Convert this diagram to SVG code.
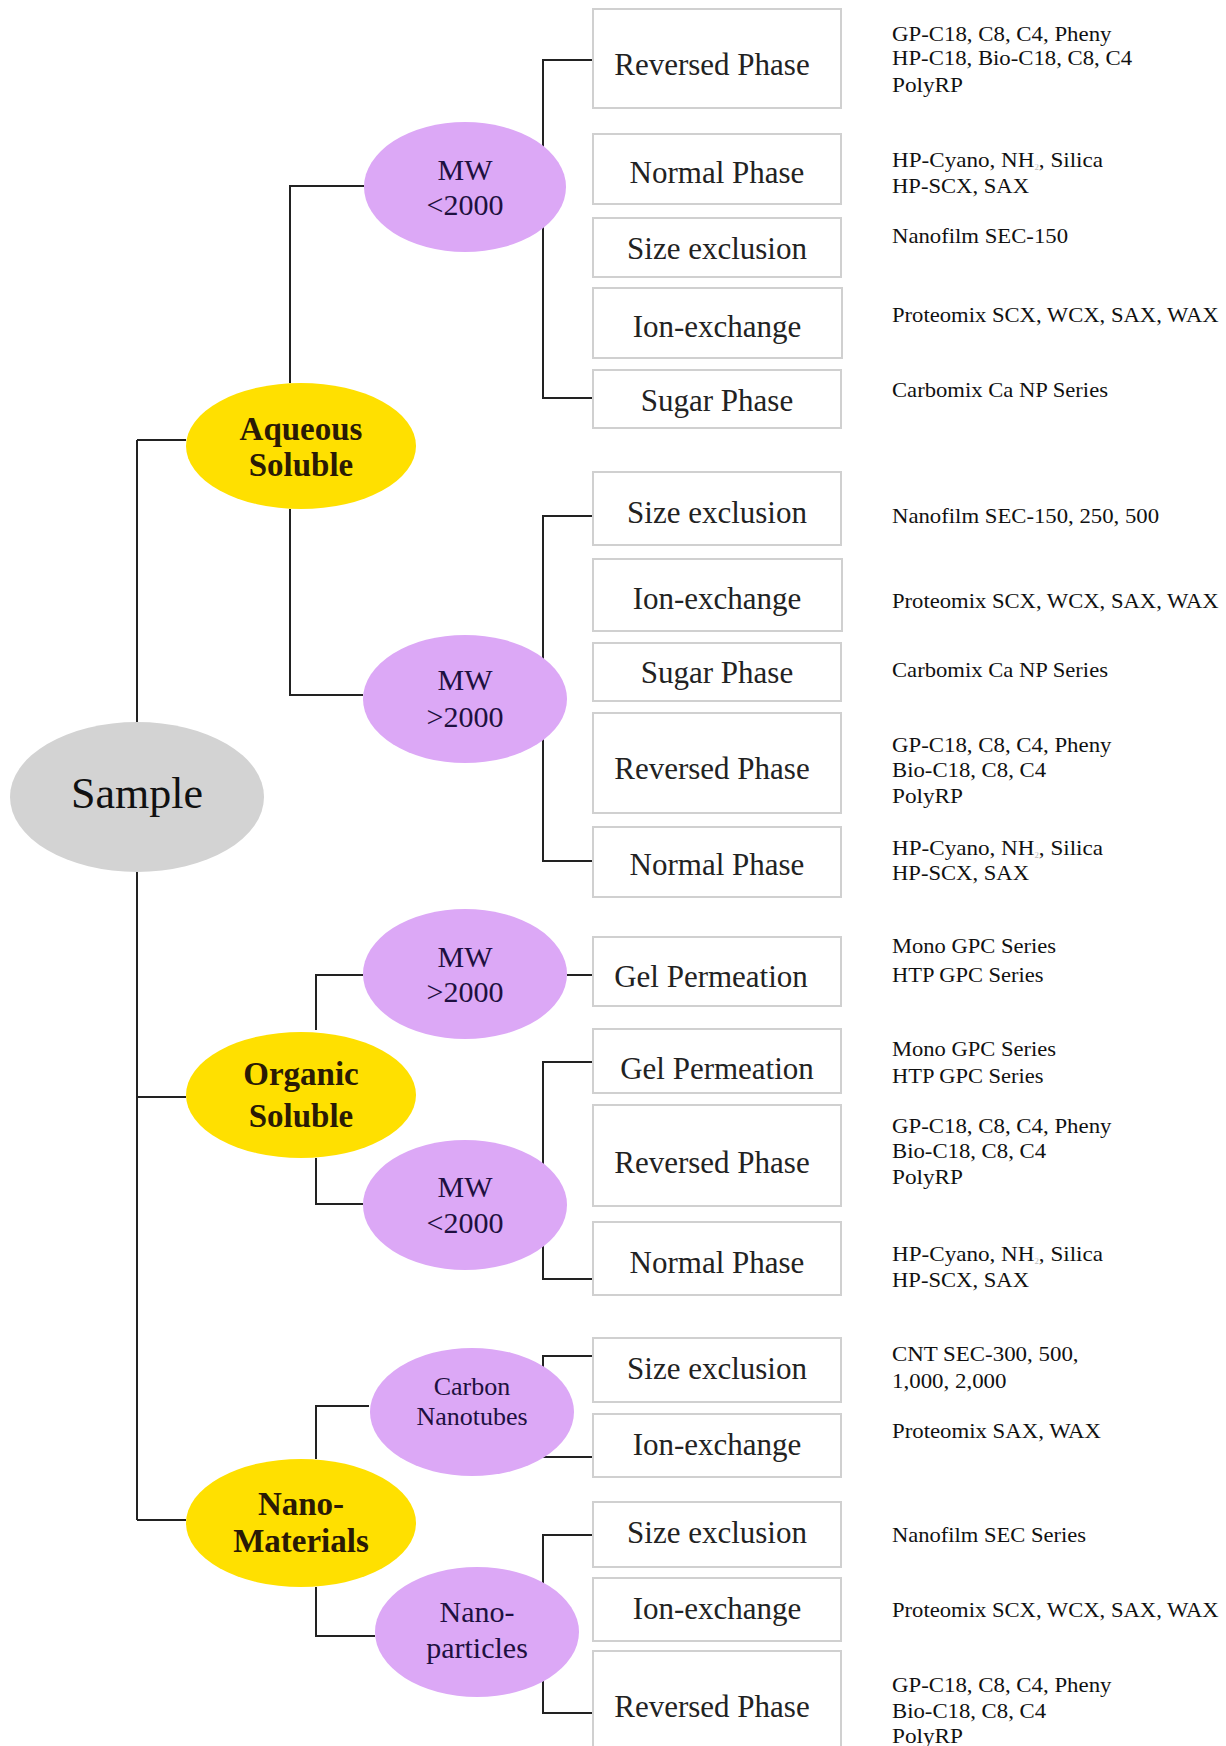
<svg xmlns="http://www.w3.org/2000/svg" width="1226" height="1746" viewBox="0 0 1226 1746">
<style>
.bg{fill:#ffffff}
.ln{fill:none;stroke:#222222;stroke-width:2}
.box{fill:#ffffff;stroke:#d0d0d0;stroke-width:2}
.gray{fill:#d3d3d3}
.yel{fill:#ffe000}
.pur{fill:#dca8f6}
.bl{font-family:"Liberation Serif","Times New Roman",serif;font-size:31px;fill:#222222;text-anchor:middle}
.rt{font-family:"Liberation Serif","Times New Roman",serif;font-size:21px;fill:#111111}
.mw{font-family:"Liberation Serif","Times New Roman",serif;font-size:30px;fill:#1e1040;text-anchor:middle}
.cat{font-family:"Liberation Serif","Times New Roman",serif;font-size:33px;font-weight:bold;fill:#2a1a05;text-anchor:middle}
.smp{font-family:"Liberation Serif","Times New Roman",serif;font-size:44px;fill:#111111;text-anchor:middle}
.cnt{font-family:"Liberation Serif","Times New Roman",serif;font-size:26px;fill:#1e1040;text-anchor:middle}
.sub{font-size:8px;fill:#bbbbbb}
</style>
<rect class="bg" x="0" y="0" width="1226" height="1746"/>

<g id="connectors">
<path class="ln" d="M137,440 V1520"/>
<path class="ln" d="M137,440 H186"/>
<path class="ln" d="M137,1097 H186"/>
<path class="ln" d="M137,1520 H186"/>
<path class="ln" d="M290,383 V186 H364"/>
<path class="ln" d="M290,509 V695 H363"/>
<path class="ln" d="M316,1030 V975 H363"/>
<path class="ln" d="M316,1158 V1204 H363"/>
<path class="ln" d="M316,1459 V1406 H369"/>
<path class="ln" d="M316,1587 V1636 H375"/>
<path class="ln" d="M593,60 H543 V398 H593"/>
<path class="ln" d="M593,516 H543 V861 H593"/>
<path class="ln" d="M567,975 H593"/>
<path class="ln" d="M593,1062 H543 V1279 H593"/>
<path class="ln" d="M593,1356 H543 V1457 H593"/>
<path class="ln" d="M593,1535 H543 V1713 H593"/>
</g>

<g id="sample">
<ellipse class="gray" cx="137" cy="797" rx="127" ry="75"/>
<text class="smp" x="137" y="808">Sample</text>
</g>

<g id="aqueous">
<ellipse class="yel" cx="301" cy="446" rx="115" ry="63"/>
<text class="cat" x="301" y="440">Aqueous</text>
<text class="cat" x="301" y="476">Soluble</text>
</g>
<g id="organic">
<ellipse class="yel" cx="301" cy="1095" rx="115" ry="63"/>
<text class="cat" x="301" y="1085">Organic</text>
<text class="cat" x="301" y="1127">Soluble</text>
</g>
<g id="nano">
<ellipse class="yel" cx="301" cy="1523" rx="115" ry="64"/>
<text class="cat" x="301" y="1515">Nano-</text>
<text class="cat" x="301" y="1552">Materials</text>
</g>

<g id="aq-mw-lt">
<ellipse class="pur" cx="465" cy="187" rx="101" ry="65"/>
<text class="mw" x="465" y="180">MW</text>
<text class="mw" x="465" y="215">&lt;2000</text>
</g>
<g id="aq-mw-gt">
<ellipse class="pur" cx="465" cy="699" rx="102" ry="64"/>
<text class="mw" x="465" y="690">MW</text>
<text class="mw" x="465" y="727">&gt;2000</text>
</g>
<g id="org-mw-gt">
<ellipse class="pur" cx="465" cy="974" rx="102" ry="65"/>
<text class="mw" x="465" y="967">MW</text>
<text class="mw" x="465" y="1002">&gt;2000</text>
</g>
<g id="org-mw-lt">
<ellipse class="pur" cx="465" cy="1205" rx="102" ry="65"/>
<text class="mw" x="465" y="1197">MW</text>
<text class="mw" x="465" y="1233">&lt;2000</text>
</g>
<g id="carbon">
<ellipse class="pur" cx="472" cy="1412" rx="102" ry="64"/>
<text class="cnt" x="472" y="1395">Carbon</text>
<text class="cnt" x="472" y="1425">Nanotubes</text>
</g>
<g id="nanoparticles">
<ellipse class="pur" cx="477" cy="1632" rx="102" ry="65"/>
<text class="mw" x="477" y="1622">Nano-</text>
<text class="mw" x="477" y="1658">particles</text>
</g>

<!-- Aqueous MW<2000 -->
<g id="a1-rp">
<rect class="box" x="593" y="9" width="248" height="99"/>
<text class="bl" x="712" y="75">Reversed Phase</text>
<text class="rt" x="892" y="40.7" textLength="219.5" lengthAdjust="spacingAndGlyphs">GP-C18, C8, C4, Pheny</text>
<text class="rt" x="892" y="65" textLength="240" lengthAdjust="spacingAndGlyphs">HP-C18, Bio-C18, C8, C4</text>
<text class="rt" x="892" y="91.7" textLength="71" lengthAdjust="spacingAndGlyphs">PolyRP</text>
</g>
<g id="a1-np">
<rect class="box" x="593" y="134" width="248" height="70"/>
<text class="bl" x="717" y="182.7">Normal Phase</text>
<text class="rt" x="892" y="166.7" textLength="211" lengthAdjust="spacingAndGlyphs">HP-Cyano, NH<tspan class="sub" dy="3">2</tspan><tspan dy="-3">, Silica</tspan></text>
<text class="rt" x="892" y="192.7" textLength="137" lengthAdjust="spacingAndGlyphs">HP-SCX, SAX</text>
</g>
<g id="a1-se">
<rect class="box" x="593" y="218" width="248" height="59"/>
<text class="bl" x="717" y="259">Size exclusion</text>
<text class="rt" x="892" y="242.7" textLength="176" lengthAdjust="spacingAndGlyphs">Nanofilm SEC-150</text>
</g>
<g id="a1-ie">
<rect class="box" x="593" y="288" width="249" height="70"/>
<text class="bl" x="717" y="336.7">Ion-exchange</text>
<text class="rt" x="892" y="321.7" textLength="326.6" lengthAdjust="spacingAndGlyphs">Proteomix SCX, WCX, SAX, WAX</text>
</g>
<g id="a1-sp">
<rect class="box" x="593" y="370" width="248" height="58"/>
<text class="bl" x="717" y="410.7">Sugar Phase</text>
<text class="rt" x="892" y="396.7" textLength="216" lengthAdjust="spacingAndGlyphs">Carbomix Ca NP Series</text>
</g>

<!-- Aqueous MW>2000 -->
<g id="a2-se">
<rect class="box" x="593" y="472" width="248" height="73"/>
<text class="bl" x="717" y="522.7">Size exclusion</text>
<text class="rt" x="892" y="523" textLength="267" lengthAdjust="spacingAndGlyphs">Nanofilm SEC-150, 250, 500</text>
</g>
<g id="a2-ie">
<rect class="box" x="593" y="559" width="249" height="72"/>
<text class="bl" x="717" y="609.3">Ion-exchange</text>
<text class="rt" x="892" y="608" textLength="326.6" lengthAdjust="spacingAndGlyphs">Proteomix SCX, WCX, SAX, WAX</text>
</g>
<g id="a2-sp">
<rect class="box" x="593" y="643" width="248" height="58"/>
<text class="bl" x="717" y="682.7">Sugar Phase</text>
<text class="rt" x="892" y="677" textLength="216" lengthAdjust="spacingAndGlyphs">Carbomix Ca NP Series</text>
</g>
<g id="a2-rp">
<rect class="box" x="593" y="713" width="248" height="100"/>
<text class="bl" x="712" y="779.3">Reversed Phase</text>
<text class="rt" x="892" y="752" textLength="219.5" lengthAdjust="spacingAndGlyphs">GP-C18, C8, C4, Pheny</text>
<text class="rt" x="892" y="777" textLength="154" lengthAdjust="spacingAndGlyphs">Bio-C18, C8, C4</text>
<text class="rt" x="892" y="803" textLength="71" lengthAdjust="spacingAndGlyphs">PolyRP</text>
</g>
<g id="a2-np">
<rect class="box" x="593" y="827" width="248" height="70"/>
<text class="bl" x="717" y="875">Normal Phase</text>
<text class="rt" x="892" y="855" textLength="211" lengthAdjust="spacingAndGlyphs">HP-Cyano, NH<tspan class="sub" dy="3">2</tspan><tspan dy="-3">, Silica</tspan></text>
<text class="rt" x="892" y="880" textLength="137" lengthAdjust="spacingAndGlyphs">HP-SCX, SAX</text>
</g>

<!-- Organic -->
<g id="o1-gp">
<rect class="box" x="593" y="937" width="248" height="69"/>
<text class="bl" x="711" y="987.3">Gel Permeation</text>
<text class="rt" x="892" y="953" textLength="164" lengthAdjust="spacingAndGlyphs">Mono GPC Series</text>
<text class="rt" x="892" y="982" textLength="151.5" lengthAdjust="spacingAndGlyphs">HTP GPC Series</text>
</g>
<g id="o2-gp">
<rect class="box" x="593" y="1029" width="248" height="64"/>
<text class="bl" x="717" y="1079.3">Gel Permeation</text>
<text class="rt" x="892" y="1056" textLength="164" lengthAdjust="spacingAndGlyphs">Mono GPC Series</text>
<text class="rt" x="892" y="1083" textLength="151.5" lengthAdjust="spacingAndGlyphs">HTP GPC Series</text>
</g>
<g id="o2-rp">
<rect class="box" x="593" y="1105" width="248" height="101"/>
<text class="bl" x="712" y="1172.7">Reversed Phase</text>
<text class="rt" x="892" y="1133" textLength="219.5" lengthAdjust="spacingAndGlyphs">GP-C18, C8, C4, Pheny</text>
<text class="rt" x="892" y="1158" textLength="154" lengthAdjust="spacingAndGlyphs">Bio-C18, C8, C4</text>
<text class="rt" x="892" y="1184" textLength="71" lengthAdjust="spacingAndGlyphs">PolyRP</text>
</g>
<g id="o2-np">
<rect class="box" x="593" y="1222" width="248" height="73"/>
<text class="bl" x="717" y="1272.7">Normal Phase</text>
<text class="rt" x="892" y="1261" textLength="211" lengthAdjust="spacingAndGlyphs">HP-Cyano, NH<tspan class="sub" dy="3">2</tspan><tspan dy="-3">, Silica</tspan></text>
<text class="rt" x="892" y="1287" textLength="137" lengthAdjust="spacingAndGlyphs">HP-SCX, SAX</text>
</g>

<!-- Nano -->
<g id="n1-se">
<rect class="box" x="593" y="1338" width="248" height="64"/>
<text class="bl" x="717" y="1379.3">Size exclusion</text>
<text class="rt" x="892" y="1361" textLength="186.6" lengthAdjust="spacingAndGlyphs">CNT SEC-300, 500,</text>
<text class="rt" x="892" y="1388" textLength="114.5" lengthAdjust="spacingAndGlyphs">1,000, 2,000</text>
</g>
<g id="n1-ie">
<rect class="box" x="593" y="1414" width="248" height="63"/>
<text class="bl" x="717" y="1455">Ion-exchange</text>
<text class="rt" x="892" y="1438" textLength="209" lengthAdjust="spacingAndGlyphs">Proteomix SAX, WAX</text>
</g>
<g id="n2-se">
<rect class="box" x="593" y="1502" width="248" height="65"/>
<text class="bl" x="717" y="1542.7">Size exclusion</text>
<text class="rt" x="892" y="1542" textLength="194" lengthAdjust="spacingAndGlyphs">Nanofilm SEC Series</text>
</g>
<g id="n2-ie">
<rect class="box" x="593" y="1578" width="248" height="63"/>
<text class="bl" x="717" y="1619.3">Ion-exchange</text>
<text class="rt" x="892" y="1617" textLength="326.6" lengthAdjust="spacingAndGlyphs">Proteomix SCX, WCX, SAX, WAX</text>
</g>
<g id="n2-rp">
<rect class="box" x="593" y="1651" width="248" height="110"/>
<text class="bl" x="712" y="1716.7">Reversed Phase</text>
<text class="rt" x="892" y="1692" textLength="219.5" lengthAdjust="spacingAndGlyphs">GP-C18, C8, C4, Pheny</text>
<text class="rt" x="892" y="1718" textLength="154" lengthAdjust="spacingAndGlyphs">Bio-C18, C8, C4</text>
<text class="rt" x="892" y="1743" textLength="71" lengthAdjust="spacingAndGlyphs">PolyRP</text>
</g>
</svg>
